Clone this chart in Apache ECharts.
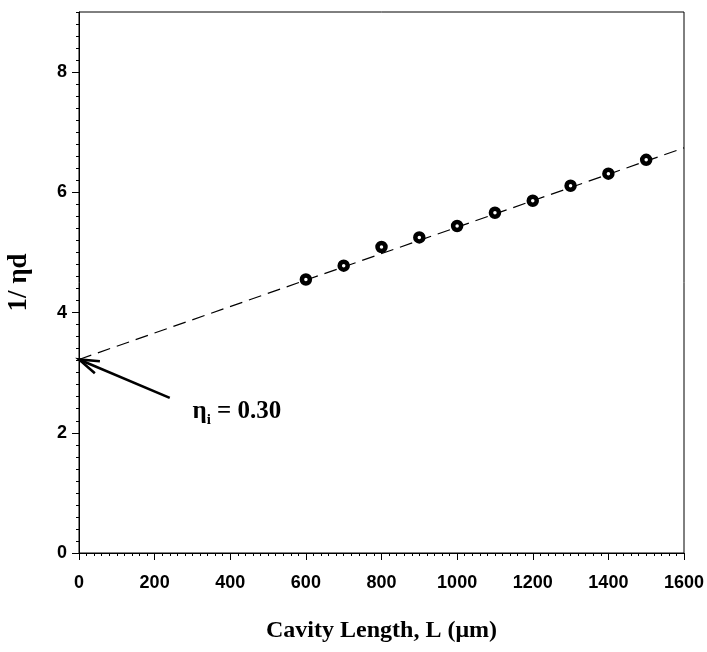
<!DOCTYPE html>
<html>
<head>
<meta charset="utf-8">
<script src="https://cdn.jsdelivr.net/npm/echarts@6/dist/echarts.min.js"></script>
<style>
  html, body { margin: 0; padding: 0; background: #fff; }
  #main { width: 707px; height: 652px; }
</style>
</head>
<body>
<div id="main"></div>
<script>
// cavity length (um) and measured 1/eta_d
var cavityLen = [600, 700, 800, 900, 1000, 1100, 1200, 1300, 1400, 1500];
var invEta = [4.55, 4.78, 5.09, 5.25, 5.44, 5.66, 5.86, 6.11, 6.31, 6.54];
// linear fit, end points
var fitX = [0, 1600];
var fitY = [3.22, 6.74];
// arrow annotation (tail -> tip), data coords
var arrowTail = [240, 2.58];
var arrowTip = [0, 3.22];
var notePos = [300, 2.35];
var yLabels = [0, 2, 4, 6, 8];

var chart = echarts.init(document.getElementById('main'));

var tickFont = {
    color: '#000',
    fontFamily: 'Liberation Sans, Arial',
    fontWeight: 'bold',
    fontSize: 18
};
var serif = 'Liberation Serif, Times New Roman';

var option = {
    animation: false,
    backgroundColor: '#fff',
    grid: {
        left: 79, right: 23, top: 12, bottom: 99,
        outerBoundsMode: 'none',
        containLabel: false,
        show: true, borderColor: '#000', borderWidth: 1
    },
    xAxis: {
        type: 'value',
        min: 0, max: 1600, interval: 200,
        name: 'Cavity Length, L (\u03bcm)',
        nameLocation: 'middle',
        nameGap: 66,
        nameTextStyle: { color: '#000', fontFamily: serif, fontWeight: 'bold', fontSize: 24 },
        axisLine: { show: true, onZero: false, lineStyle: { color: '#000', width: 1 } },
        axisTick: { show: true, inside: false, length: 7, lineStyle: { color: '#000' } },
        minorTick: { show: true, splitNumber: 10, length: 3, lineStyle: { color: '#000' } },
        axisLabel: Object.assign({ margin: 21, formatter: function (v) { return String(v); } }, tickFont),
        splitLine: { show: false }
    },
    yAxis: [{
        type: 'value',
        min: 0, max: 9, interval: 2,
        name: '1/ \u03b7d',
        nameLocation: 'middle',
        nameGap: 46,
        nameTextStyle: { color: '#000', fontFamily: serif, fontWeight: 'bold', fontSize: 27 },
        axisLine: { show: true, onZero: false, lineStyle: { color: '#000', width: 1 } },
        axisTick: { show: true, length: 7, customValues: yLabels, lineStyle: { color: '#000' } },
        axisLabel: Object.assign({ margin: 12, customValues: yLabels }, tickFont),
        splitLine: { show: false }
    }, {
        // minor ticks every 0.2
        type: 'value',
        min: 0, max: 9, interval: 1,
        position: 'left',
        axisLine: { show: false },
        axisTick: { show: true, length: 3, lineStyle: { color: '#000' } },
        minorTick: { show: true, splitNumber: 5, length: 3, lineStyle: { color: '#000' } },
        axisLabel: { show: false },
        splitLine: { show: false }
    }],
    series: [{
        type: 'line',
        data: fitX.map(function (x, i) { return [x, fitY[i]]; }),
        showSymbol: false,
        lineStyle: { color: '#000', width: 1.2, type: [13, 7] },
        z: 2
    }, {
        type: 'scatter',
        data: cavityLen.map(function (x, i) { return [x, invEta[i]]; }),
        symbol: 'circle',
        symbolSize: 8,
        itemStyle: { color: '#fff', borderColor: '#000', borderWidth: 4.5, opacity: 1 },
        z: 3
    }, {
        type: 'custom',
        data: [[arrowTail[0], arrowTail[1], arrowTip[0], arrowTip[1]]],
        clip: false,
        renderItem: function (params, api) {
            var a = api.coord([api.value(0), api.value(1)]);
            var b = api.coord([api.value(2), api.value(3)]);
            var t = api.coord(notePos);
            var ang = Math.atan2(a[1] - b[1], a[0] - b[0]);
            var len = 21, spread = 18 * Math.PI / 180;
            var h1 = [b[0] + len * Math.cos(ang - spread), b[1] + len * Math.sin(ang - spread)];
            var h2 = [b[0] + len * Math.cos(ang + spread), b[1] + len * Math.sin(ang + spread)];
            var stroke = { stroke: '#000', lineWidth: 2.6, fill: null };
            return {
                type: 'group',
                children: [{
                    type: 'line',
                    shape: { x1: a[0], y1: a[1], x2: b[0], y2: b[1] },
                    style: stroke
                }, {
                    type: 'polyline',
                    shape: { points: [h1, b, h2] },
                    style: stroke
                }, {
                    type: 'text',
                    x: t[0], y: t[1],
                    style: {
                        text: '{a|\u03b7}{s|i}{a| = 0.30}',
                        verticalAlign: 'middle',
                        rich: {
                            a: { fontFamily: serif, fontWeight: 'bold', fontSize: 25, fill: '#000' },
                            s: { fontFamily: serif, fontWeight: 'bold', fontSize: 15, fill: '#000', padding: [16, 0, 0, 0] }
                        }
                    }
                }]
            };
        },
        z: 4
    }]
};

chart.setOption(option);
</script>
</body>
</html>
